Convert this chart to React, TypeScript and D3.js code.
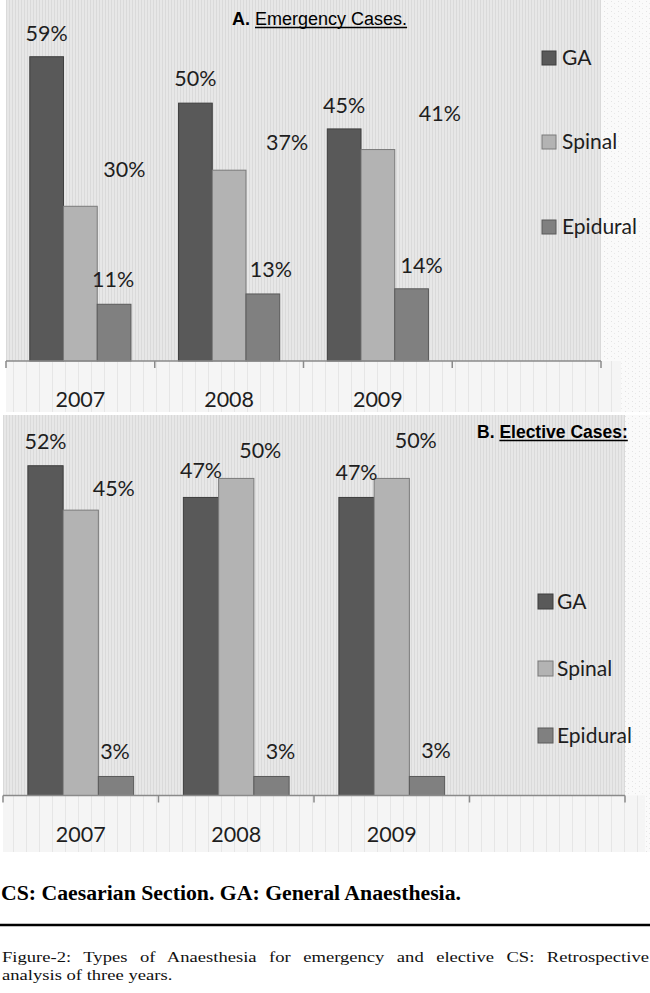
import React, { useEffect, useRef } from "react";
import * as d3 from "d3";

// ---------- data ----------
const years = ["2007", "2008", "2009", ""]; // fourth, empty slot on the category axis
const seriesNames = ["GA", "Spinal", "Epidural"];

const emergencyGA = [59, 50, 45];
const emergencySpinal = [30, 37, 41];
const emergencyEpidural = [11, 13, 14];

const electiveGA = [52, 47, 47];
const electiveSpinal = [45, 50, 50];
const electiveEpidural = [3, 3, 3];

const emergencyTitleBold = "A.";
const emergencyTitle = "Emergency Cases.";
const electiveTitleBold = "B.";
const electiveTitle = "Elective Cases:";

const footnote = "CS: Caesarian Section. GA: General Anaesthesia.";
const captionLine1 = "Figure-2: Types of Anaesthesia for emergency and elective CS: Retrospective";
const captionLine2 = "analysis of three years.";

// ---------- styling / label placement (not data) ----------
const seriesFill = ["#595959", "#b3b3b3", "#808080"];
const seriesStroke = ["#3e3e3e", "#7a7a7a", "#5a5a5a"];

// label nudges (px) per series, per year: [dx, dy] from bar centre / bar top
const emergencyNudgeX = [[0, 0, 0], [44, 58, 62], [-1, 8, 10]];
const emergencyNudgeY = [[-16, -17, -16], [-29, -20, -29], [-17, -17, -16]];
const electiveNudgeX = [[0, 0, 0], [33, 24, 24], [-1, 9, 9]];
const electiveNudgeY = [[-17, -19, -17], [-14, -20, -30], [-17, -17, -18]];

const chartFont = "Lato, 'Open Sans', sans-serif";
const serifFont = "'Liberation Serif', 'Times New Roman', serif";

type Panel = {
  values: number[][];
  nudgeX: number[][];
  nudgeY: number[][];
  left: number;
  right: number;
  top: number;
  base: number;
  max: number;
  bandBottom: number;
  legendX: number;
  legendTextX: number;
  legendTops: number[];
  legendSize: number;
  titleBold: string;
  title: string;
  titleX: number;
  titleY: number;
  titleSize: number;
  titleAllBold: boolean;
};

function drawPanel(svg: any, p: Panel) {
  const g = svg.append("g");
  const x0 = d3.scaleBand<string>().domain(years).range([p.left, p.right]).padding(0);
  const bw = x0.bandwidth();
  const x1 = d3.scaleBand<string>().domain(seriesNames).range([bw * 0.16, bw * 0.84]).padding(0);
  const y = d3.scaleLinear().domain([0, p.max]).range([p.base, p.top]);

  // right side (outside plot) light area
  g.append("rect")
    .attr("x", p.right).attr("y", p.top).attr("width", 650 - p.right).attr("height", p.bandBottom - p.top)
    .attr("fill", "url(#speckle)");
  // plot background
  g.append("rect")
    .attr("x", p.left).attr("y", p.top).attr("width", p.right - p.left).attr("height", p.base - p.top)
    .attr("fill", "url(#plotStripes)");
  // band below axis
  g.append("rect")
    .attr("x", p.left).attr("y", p.base).attr("width", p.right - p.left + 20).attr("height", p.bandBottom - p.base)
    .attr("fill", "url(#lightStripes)");

  const rows = years.slice(0, 3).flatMap((yr, i) =>
    seriesNames.map((s, j) => ({ yr, s, i, j, v: p.values[j][i] }))
  );

  g.selectAll("rect.bar")
    .data(rows)
    .join("rect")
    .attr("class", "bar")
    .attr("x", (d: any) => (x0(d.yr) as number) + (x1(d.s) as number))
    .attr("y", (d: any) => y(d.v))
    .attr("width", x1.bandwidth())
    .attr("height", (d: any) => y(0) - y(d.v))
    .attr("fill", (d: any) => seriesFill[d.j])
    .attr("stroke", (d: any) => seriesStroke[d.j])
    .attr("stroke-width", 1);

  g.selectAll("text.lbl")
    .data(rows)
    .join("text")
    .attr("class", "lbl")
    .attr("x", (d: any) => (x0(d.yr) as number) + (x1(d.s) as number) + x1.bandwidth() / 2 + p.nudgeX[d.j][d.i])
    .attr("y", (d: any) => y(d.v) + p.nudgeY[d.j][d.i])
    .attr("text-anchor", "middle")
    .attr("font-family", chartFont)
    .attr("font-size", 21.5)
    .attr("fill", "#1e1e1e")
    .text((d: any) => `${d.v}%`);

  // axis line + boundary ticks
  g.append("line")
    .attr("x1", p.left).attr("x2", p.right).attr("y1", y(0)).attr("y2", y(0))
    .attr("stroke", "#8a8a8a").attr("stroke-width", 1.5);
  const bounds = [...years.map((d) => x0(d) as number), p.right];
  g.selectAll("line.tick")
    .data(bounds)
    .join("line")
    .attr("class", "tick")
    .attr("x1", (d: number) => d).attr("x2", (d: number) => d)
    .attr("y1", y(0)).attr("y2", y(0) + 7)
    .attr("stroke", "#8a8a8a").attr("stroke-width", 1.5);
  g.selectAll("text.cat")
    .data(years.filter((d) => d !== ""))
    .join("text")
    .attr("class", "cat")
    .attr("x", (d: string) => (x0(d) as number) + bw / 2)
    .attr("y", y(0) + 46)
    .attr("text-anchor", "middle")
    .attr("font-family", chartFont)
    .attr("font-size", 21.5)
    .attr("fill", "#1e1e1e")
    .text((d: string) => d);

  // legend
  seriesNames.forEach((s, j) => {
    g.append("rect")
      .attr("x", p.legendX).attr("y", p.legendTops[j])
      .attr("width", p.legendSize).attr("height", p.legendSize)
      .attr("fill", seriesFill[j]).attr("stroke", seriesStroke[j]).attr("stroke-width", 1);
    g.append("text")
      .attr("x", p.legendTextX).attr("y", p.legendTops[j] + p.legendSize)
      .attr("font-family", chartFont)
      .attr("font-size", 21)
      .attr("fill", "#1e1e1e")
      .text(s);
  });

  // title
  const t = g.append("text")
    .attr("x", p.titleX).attr("y", p.titleY)
    .attr("font-family", "'Liberation Sans', Arial, sans-serif")
    .attr("font-size", p.titleSize)
    .attr("fill", "#000");
  t.append("tspan").attr("font-weight", "bold").text(p.titleBold + " ");
  const u = t.append("tspan").attr("font-weight", p.titleAllBold ? "bold" : "normal").text(p.title);
  const boldW = (t.select("tspan").node() as any).getComputedTextLength();
  const uW = (u.node() as any).getComputedTextLength();
  g.append("line")
    .attr("x1", p.titleX + boldW).attr("x2", p.titleX + boldW + uW)
    .attr("y1", p.titleY + 2.5).attr("y2", p.titleY + 2.5)
    .attr("stroke", "#000").attr("stroke-width", 1.3);
}

export default function App() {
  const ref = useRef<SVGSVGElement>(null);

  useEffect(() => {
    const svg = d3.select(ref.current);
    svg.selectAll("*").remove();
    svg.append("rect").attr("width", 650).attr("height", 993).attr("fill", "#fff");

    const defs = svg.append("defs");
    const ps = defs.append("pattern").attr("id", "plotStripes").attr("patternUnits", "userSpaceOnUse")
      .attr("width", 3).attr("height", 6);
    ps.append("rect").attr("width", 3).attr("height", 6).attr("fill", "#e7e7e7");
    ps.append("rect").attr("width", 1).attr("height", 6).attr("fill", "#dadada");

    const ls = defs.append("pattern").attr("id", "lightStripes").attr("patternUnits", "userSpaceOnUse")
      .attr("width", 13).attr("height", 6);
    ls.append("rect").attr("width", 13).attr("height", 6).attr("fill", "#f5f5f5");
    ls.append("rect").attr("width", 1).attr("height", 6).attr("fill", "#e6e6e6");

    const sp = defs.append("pattern").attr("id", "speckle").attr("patternUnits", "userSpaceOnUse")
      .attr("width", 7).attr("height", 5);
    sp.append("rect").attr("width", 7).attr("height", 5).attr("fill", "#fafafa");
    sp.append("rect").attr("x", 2).attr("y", 1).attr("width", 1).attr("height", 1).attr("fill", "#e4e4e4");
    sp.append("rect").attr("x", 5).attr("y", 3).attr("width", 1).attr("height", 1).attr("fill", "#e8e8e8");

    drawPanel(svg, {
      values: [emergencyGA, emergencySpinal, emergencyEpidural],
      nudgeX: emergencyNudgeX,
      nudgeY: emergencyNudgeY,
      left: 6, right: 601, top: 0, base: 361, max: 70, bandBottom: 412,
      legendX: 542, legendTextX: 562, legendTops: [51, 135, 220], legendSize: 14,
      titleBold: emergencyTitleBold, title: emergencyTitle,
      titleX: 232, titleY: 25, titleSize: 18, titleAllBold: false,
    });

    drawPanel(svg, {
      values: [electiveGA, electiveSpinal, electiveEpidural],
      nudgeX: electiveNudgeX,
      nudgeY: electiveNudgeY,
      left: 3, right: 625, top: 415, base: 795.5, max: 60, bandBottom: 852,
      legendX: 538, legendTextX: 557, legendTops: [594, 661, 728], legendSize: 15,
      titleBold: electiveTitleBold, title: electiveTitle,
      titleX: 477, titleY: 438, titleSize: 17.5, titleAllBold: true,
    });

    // footnote
    svg.append("text")
      .attr("x", 1).attr("y", 900)
      .attr("font-family", serifFont)
      .attr("font-weight", "bold")
      .attr("font-size", 20)
      .attr("textLength", 460)
      .attr("lengthAdjust", "spacingAndGlyphs")
      .attr("fill", "#000")
      .text(footnote);

    svg.append("line")
      .attr("x1", 0).attr("x2", 650).attr("y1", 925).attr("y2", 925)
      .attr("stroke", "#000").attr("stroke-width", 2.5);

    const sx = 1.2;
    const c1 = svg.append("text")
      .attr("transform", `translate(2,962) scale(${sx},1)`)
      .attr("font-family", serifFont)
      .attr("font-size", 15.5)
      .attr("fill", "#111")
      .text(captionLine1);
    const L = (c1.node() as any).getComputedTextLength();
    const gaps = captionLine1.split(" ").length - 1;
    const ws = (647 / sx - L) / gaps;
    c1.style("word-spacing", `${ws}px`);

    svg.append("text")
      .attr("transform", `translate(2,980) scale(${sx},1)`)
      .attr("font-family", serifFont)
      .attr("font-size", 15.5)
      .attr("fill", "#111")
      .text(captionLine2);
  }, []);

  return (
    <svg
      ref={ref}
      width={650}
      height={993}
      style={{ position: "absolute", left: 0, top: 0, display: "block" }}
    />
  );
}
